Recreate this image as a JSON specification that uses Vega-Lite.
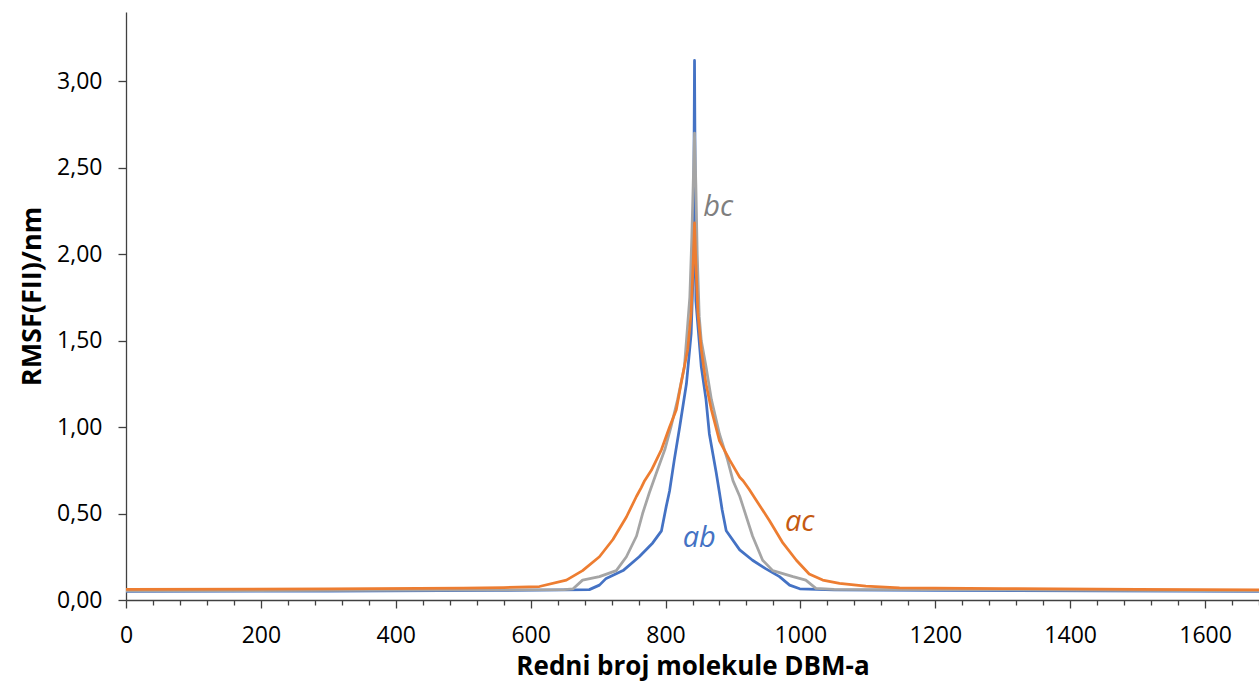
{
  "$schema": "https://vega.github.io/schema/vega-lite/v6.json",
  "autosize": {"type": "none"},
  "padding": {"left": 126, "top": 12, "right": 0, "bottom": 84},
  "width": 1133,
  "height": 588,
  "config": {
    "view": {"stroke": null},
    "locale": {"number": {"decimal": ",", "thousands": ".", "grouping": [3], "currency": ["", " €"]}},
    "font": "Open Sans"
  },
  "datasets": {
    "curves": [
      {"series": "ab", "x": 0, "y": 0.05}, {"series": "ab", "x": 300, "y": 0.052}, {"series": "ab", "x": 550, "y": 0.055}, {"series": "ab", "x": 650, "y": 0.058}, {"series": "ab", "x": 687, "y": 0.06}, {"series": "ab", "x": 702, "y": 0.086}, {"series": "ab", "x": 712, "y": 0.125}, {"series": "ab", "x": 737, "y": 0.17}, {"series": "ab", "x": 761, "y": 0.25}, {"series": "ab", "x": 781, "y": 0.33}, {"series": "ab", "x": 794, "y": 0.4}, {"series": "ab", "x": 801, "y": 0.54}, {"series": "ab", "x": 806, "y": 0.63}, {"series": "ab", "x": 813, "y": 0.81}, {"series": "ab", "x": 821, "y": 1.0}, {"series": "ab", "x": 831, "y": 1.25}, {"series": "ab", "x": 838, "y": 1.54}, {"series": "ab", "x": 841, "y": 1.9}, {"series": "ab", "x": 842, "y": 2.4}, {"series": "ab", "x": 843, "y": 3.12}, {"series": "ab", "x": 844, "y": 2.4}, {"series": "ab", "x": 845, "y": 1.73}, {"series": "ab", "x": 853, "y": 1.35}, {"series": "ab", "x": 860, "y": 1.16}, {"series": "ab", "x": 865, "y": 0.96}, {"series": "ab", "x": 875, "y": 0.74}, {"series": "ab", "x": 880, "y": 0.62}, {"series": "ab", "x": 884, "y": 0.52}, {"series": "ab", "x": 890, "y": 0.4}, {"series": "ab", "x": 910, "y": 0.29}, {"series": "ab", "x": 929, "y": 0.23}, {"series": "ab", "x": 949, "y": 0.18}, {"series": "ab", "x": 969, "y": 0.135}, {"series": "ab", "x": 984, "y": 0.086}, {"series": "ab", "x": 999, "y": 0.065}, {"series": "ab", "x": 1050, "y": 0.058}, {"series": "ab", "x": 1200, "y": 0.055}, {"series": "ab", "x": 1680, "y": 0.05},
      {"series": "bc", "x": 0, "y": 0.053}, {"series": "bc", "x": 300, "y": 0.055}, {"series": "bc", "x": 550, "y": 0.058}, {"series": "bc", "x": 650, "y": 0.06}, {"series": "bc", "x": 663, "y": 0.065}, {"series": "bc", "x": 677, "y": 0.115}, {"series": "bc", "x": 702, "y": 0.135}, {"series": "bc", "x": 727, "y": 0.17}, {"series": "bc", "x": 742, "y": 0.25}, {"series": "bc", "x": 757, "y": 0.37}, {"series": "bc", "x": 766, "y": 0.5}, {"series": "bc", "x": 776, "y": 0.62}, {"series": "bc", "x": 786, "y": 0.73}, {"series": "bc", "x": 799, "y": 0.87}, {"series": "bc", "x": 808, "y": 1.0}, {"series": "bc", "x": 818, "y": 1.16}, {"series": "bc", "x": 828, "y": 1.35}, {"series": "bc", "x": 833, "y": 1.6}, {"series": "bc", "x": 836, "y": 1.75}, {"series": "bc", "x": 839, "y": 2.1}, {"series": "bc", "x": 841, "y": 2.4}, {"series": "bc", "x": 843, "y": 2.7}, {"series": "bc", "x": 845, "y": 2.4}, {"series": "bc", "x": 847, "y": 2.0}, {"series": "bc", "x": 850, "y": 1.64}, {"series": "bc", "x": 853, "y": 1.5}, {"series": "bc", "x": 860, "y": 1.35}, {"series": "bc", "x": 868, "y": 1.16}, {"series": "bc", "x": 880, "y": 0.96}, {"series": "bc", "x": 892, "y": 0.81}, {"series": "bc", "x": 900, "y": 0.69}, {"series": "bc", "x": 910, "y": 0.6}, {"series": "bc", "x": 915, "y": 0.54}, {"series": "bc", "x": 929, "y": 0.37}, {"series": "bc", "x": 944, "y": 0.23}, {"series": "bc", "x": 959, "y": 0.17}, {"series": "bc", "x": 989, "y": 0.135}, {"series": "bc", "x": 1008, "y": 0.115}, {"series": "bc", "x": 1023, "y": 0.067}, {"series": "bc", "x": 1050, "y": 0.062}, {"series": "bc", "x": 1200, "y": 0.06}, {"series": "bc", "x": 1680, "y": 0.053},
      {"series": "ac", "x": 0, "y": 0.062}, {"series": "ac", "x": 300, "y": 0.064}, {"series": "ac", "x": 500, "y": 0.068}, {"series": "ac", "x": 560, "y": 0.072}, {"series": "ac", "x": 613, "y": 0.078}, {"series": "ac", "x": 653, "y": 0.115}, {"series": "ac", "x": 677, "y": 0.17}, {"series": "ac", "x": 702, "y": 0.25}, {"series": "ac", "x": 722, "y": 0.35}, {"series": "ac", "x": 742, "y": 0.48}, {"series": "ac", "x": 757, "y": 0.6}, {"series": "ac", "x": 764, "y": 0.65}, {"series": "ac", "x": 769, "y": 0.69}, {"series": "ac", "x": 779, "y": 0.75}, {"series": "ac", "x": 794, "y": 0.87}, {"series": "ac", "x": 806, "y": 1.0}, {"series": "ac", "x": 816, "y": 1.1}, {"series": "ac", "x": 823, "y": 1.25}, {"series": "ac", "x": 833, "y": 1.45}, {"series": "ac", "x": 838, "y": 1.66}, {"series": "ac", "x": 841, "y": 1.95}, {"series": "ac", "x": 843, "y": 2.18}, {"series": "ac", "x": 845, "y": 1.95}, {"series": "ac", "x": 848, "y": 1.66}, {"series": "ac", "x": 853, "y": 1.45}, {"series": "ac", "x": 860, "y": 1.25}, {"series": "ac", "x": 868, "y": 1.1}, {"series": "ac", "x": 880, "y": 0.92}, {"series": "ac", "x": 895, "y": 0.81}, {"series": "ac", "x": 910, "y": 0.71}, {"series": "ac", "x": 915, "y": 0.69}, {"series": "ac", "x": 924, "y": 0.64}, {"series": "ac", "x": 934, "y": 0.58}, {"series": "ac", "x": 954, "y": 0.46}, {"series": "ac", "x": 974, "y": 0.33}, {"series": "ac", "x": 994, "y": 0.23}, {"series": "ac", "x": 1013, "y": 0.15}, {"series": "ac", "x": 1033, "y": 0.115}, {"series": "ac", "x": 1058, "y": 0.096}, {"series": "ac", "x": 1097, "y": 0.08}, {"series": "ac", "x": 1147, "y": 0.07}, {"series": "ac", "x": 1300, "y": 0.066}, {"series": "ac", "x": 1500, "y": 0.062}, {"series": "ac", "x": 1680, "y": 0.058}
    ],
    "labels": [
      {"series": "ab", "x": 850, "y": 0.36},
      {"series": "ac", "x": 999, "y": 0.45},
      {"series": "bc", "x": 878, "y": 2.27}
    ]
  },
  "encoding": {
    "x": {
      "field": "x", "type": "quantitative",
      "scale": {"domain": [0, 1680], "nice": false, "zero": false},
      "axis": {
        "title": "Redni broj molekule DBM-a",
        "values": [0, 40, 80, 120, 160, 200, 240, 280, 320, 360, 400, 440, 480, 520, 560, 600, 640, 680, 720, 760, 800, 840, 880, 920, 960, 1000, 1040, 1080, 1120, 1160, 1200, 1240, 1280, 1320, 1360, 1400, 1440, 1480, 1520, 1560, 1600, 1640, 1680],
        "format": "d",
        "labelExpr": "datum.value % 200 === 0 ? datum.label : ''",
        "tickSize": {"condition": {"test": "datum.value % 200 === 0", "value": 8}, "value": 5},
        "grid": false,
        "domainColor": "#404040", "tickColor": "#404040", "domainWidth": 1.3, "tickWidth": 1.3,
        "labelFont": "Open Sans", "labelFontSize": 23, "labelColor": "#000000", "labelPadding": 16,
        "labelOverlap": false, "labelFlush": false,
        "titleFont": "Open Sans", "titleFontSize": 26, "titleFontWeight": "bold", "titleColor": "#000000", "titlePadding": 6
      }
    },
    "y": {
      "field": "y", "type": "quantitative",
      "scale": {"domain": [0, 3.4], "nice": false},
      "axis": {
        "title": "RMSF(FII)/nm",
        "values": [0, 0.5, 1, 1.5, 2, 2.5, 3],
        "format": ".2f",
        "grid": false, "tickSize": 8,
        "domainColor": "#404040", "tickColor": "#404040", "domainWidth": 1.3, "tickWidth": 1.3,
        "labelFont": "Open Sans", "labelFontSize": 23, "labelColor": "#000000", "labelPadding": 16,
        "titleFont": "Open Sans", "titleFontSize": 27, "titleFontWeight": "bold", "titleColor": "#000000", "titlePadding": 10, "titleY": 284
      }
    }
  },
  "layer": [
    {"data": {"name": "curves"}, "transform": [{"filter": "datum.series === 'ab'"}], "mark": {"type": "line", "stroke": "#4472C4", "strokeWidth": 2.75, "strokeJoin": "round"}},
    {"data": {"name": "curves"}, "transform": [{"filter": "datum.series === 'bc'"}], "mark": {"type": "line", "stroke": "#A5A5A5", "strokeWidth": 2.75, "strokeJoin": "round"}},
    {"data": {"name": "curves"}, "transform": [{"filter": "datum.series === 'ac'"}], "mark": {"type": "line", "stroke": "#ED7D31", "strokeWidth": 2.75, "strokeJoin": "round"}},
    {
      "data": {"name": "labels"},
      "mark": {"type": "text", "font": "Open Sans", "fontSize": 29, "fontStyle": "italic", "align": "center", "baseline": "middle"},
      "encoding": {
        "text": {"field": "series"},
        "fill": {"field": "series", "type": "nominal", "scale": {"domain": ["ab", "ac", "bc"], "range": ["#4472C4", "#C55A11", "#7F7F7F"]}, "legend": null}
      }
    }
  ]
}
